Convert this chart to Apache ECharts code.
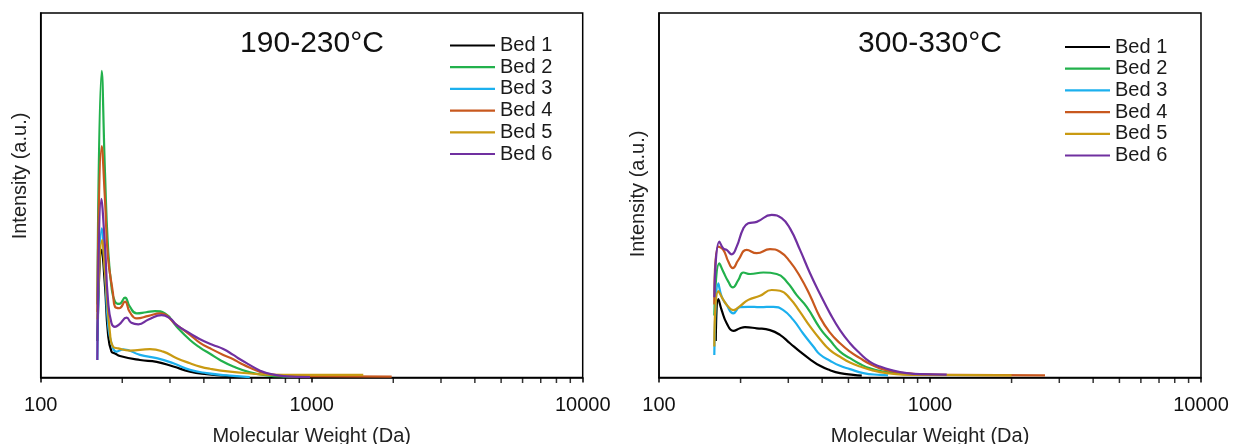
<!DOCTYPE html>
<html>
<head>
<meta charset="utf-8">
<script src="https://cdn.jsdelivr.net/npm/echarts@6/dist/echarts.min.js"></script>
<style>
html,body{margin:0;padding:0;background:#fff;}
#chart{width:1234px;height:444px;}
</style>
</head>
<body>
<div id="chart"></div>
<script>
// ---- data ----
const panelTitles = ['190-230°C', '300-330°C'];
const bedNames = ['Bed 1', 'Bed 2', 'Bed 3', 'Bed 4', 'Bed 5', 'Bed 6'];
const xTicks = [100, 1000, 10000];
const minorTickValues = [200, 300, 400, 500, 600, 700, 800, 900, 2000, 3000, 4000, 5000, 6000, 7000, 8000, 9000];
const xAxisTitle = 'Molecular Weight (Da)';
const yAxisTitle = 'Intensity (a.u.)';

// 190-230°C panel: [molecular weight (Da), intensity]
const lowBed1 = [[161.8, 10], [167.9, 35], [172.7, 25.0], [177.1, 12.1], [182.5, 7.1], [188.0, 6.6], [196.1, 5.9], [232.5, 4.8], [267.9, 4.3], [308.6, 3.0], [355.6, 1.6], [409.9, 0.9], [471.8, 0.5], [545, 0.1]];
const lowBed2 = [[161.8, 20], [167.9, 84.1], [172.7, 56.0], [177.1, 35.9], [182.5, 24.9], [188.0, 20.8], [195, 20.2], [204.7, 21.9], [213, 19.5], [226.1, 17.6], [245, 17.9], [264.1, 18.2], [287.5, 17.6], [317.6, 13.9], [355.6, 10.3], [387.1, 8.2], [421.5, 6.5], [458.7, 4.8], [513.6, 3.0], [592, 1.4], [682.3, 0.6], [808.8, 0.2], [905, 0.1]];
const lowBed3 = [[161.8, 4.8], [167.9, 40.9], [172.7, 28.6], [177.1, 14.9], [182.5, 9.4], [190.7, 7.1], [201.7, 7.7], [232.5, 6.2], [267.9, 5.3], [308.6, 3.9], [355.6, 2.1], [409.9, 1.2], [499.4, 0.5], [591, 0.1]];
const lowBed4 = [[161.8, 18], [167.9, 63.5], [172.7, 48.7], [177.1, 33.1], [184.8, 23.1], [188.0, 19.4], [195, 19.0], [204.7, 20.8], [213, 18.0], [226.1, 16.2], [250, 16.9], [275.5, 17.6], [317.6, 14.4], [355.6, 11.7], [387.1, 9.5], [421.5, 8.0], [471.8, 6.2], [513.6, 5.0], [543.7, 4.0], [592, 2.7], [682.3, 1.0], [785.9, 0.5], [905, 0.35], [1973, 0.25]];
const lowBed5 = [[161.8, 16], [168.5, 37.7], [172.7, 28.8], [180.2, 12.1], [184.8, 8.5], [193.3, 8.0], [213.5, 7.4], [253.1, 7.8], [283.4, 7.1], [317.6, 5.3], [355.6, 3.9], [387.1, 3.0], [421.5, 2.4], [499.4, 1.6], [592, 1.1], [682, 0.8], [905, 0.7], [1550, 0.7]];
const lowBed6 = [[161.8, 4.8], [167.4, 49.0], [172.7, 35.9], [177.1, 21.3], [182.5, 14.9], [188.0, 13.9], [195, 14.6], [207.6, 16.4], [216, 15.0], [229.2, 14.6], [250, 15.9], [279.5, 17.1], [300, 16.2], [317.6, 14.4], [355.6, 12.1], [387.1, 10.5], [430, 9.0], [471.8, 7.8], [513.6, 6.2], [543.7, 5.0], [592, 3.4], [640, 2.0], [682.3, 1.2], [785.9, 0.4], [985.6, 0.1]];

// 300-330°C panel
const highBed1 = [[162, 10], [165.5, 21.5], [170.3, 18.5], [177.7, 14.9], [188.0, 12.8], [199.0, 13.5], [207.6, 13.8], [229.4, 13.5], [256.8, 13.0], [279.5, 11.7], [304.3, 9.4], [331.4, 7.1], [360.8, 5.0], [392.8, 3.2], [427.6, 2.0], [465.5, 1.2], [521.2, 0.7], [560, 0.5]];
const highBed2 = [[160, 17], [166.9, 31.3], [172.7, 29.0], [180.2, 26.3], [187.1, 24.7], [196.1, 26.7], [204.7, 28.8], [216.7, 28.4], [242.6, 28.8], [271.8, 28.4], [296.0, 26.3], [322.2, 22.6], [350.8, 19.4], [392.8, 13.5], [427.6, 10.2], [465.5, 7.1], [506.7, 5.3], [551.7, 3.7], [600.6, 2.5], [672.5, 1.6], [775, 1.0], [893.3, 0.8]];
const highBed3 = [[160, 6.2], [165.5, 25.8], [170.3, 22.2], [177.7, 19.9], [188.0, 17.6], [199.0, 19.3], [213.5, 19.4], [235.9, 19.3], [264.1, 19.4], [287.5, 18.5], [313.0, 15.8], [340.8, 12.0], [371.1, 8.5], [392.8, 6.3], [427.6, 4.6], [465.5, 3.2], [506.7, 2.3], [567.5, 1.2], [653.9, 0.7], [700, 0.6]];
const highBed4 = [[160, 20], [165.5, 35.9], [172.7, 35.0], [180.2, 31.8], [187.1, 30.0], [196.1, 32.2], [210.6, 35.0], [229.4, 34.1], [256.8, 35.2], [279.5, 34.5], [304.3, 31.8], [331.4, 27.7], [360.8, 22.5], [392.8, 16.5], [427.6, 12.3], [465.5, 9.4], [506.7, 7.1], [551.7, 5.3], [600.6, 3.7], [653.9, 2.5], [732.1, 1.6], [820.4, 1.2], [918.8, 0.9], [1200, 0.7], [2657, 0.6]];
const highBed5 = [[160, 8.5], [165.5, 23.7], [172.7, 21.3], [180.2, 19.4], [188.0, 18.5], [199.0, 19.6], [213.5, 21.3], [235.9, 22.4], [260.5, 24.0], [279.5, 23.8], [304.3, 21.7], [331.4, 18.0], [360.8, 14.0], [392.8, 10.5], [427.6, 7.5], [465.5, 5.7], [506.7, 4.1], [551.7, 3.0], [617.7, 1.9], [692.1, 1.2], [797.1, 0.8], [1000, 0.7], [2000, 0.6]];
const highBed6 = [[160, 22], [166.9, 37.3], [172.7, 35.4], [177.7, 35.0], [185.5, 33.8], [193.5, 35.9], [204.7, 40.9], [213.5, 42.3], [229.4, 42.7], [260.5, 44.6], [283.6, 43.7], [304.3, 40.9], [331.4, 35.0], [360.8, 28.6], [392.8, 22.9], [427.6, 17.6], [465.5, 13.0], [506.7, 9.4], [551.7, 6.6], [600.6, 4.3], [653.9, 3.0], [732.1, 1.9], [820.4, 1.2], [918.8, 0.9], [1152.6, 0.8]];

const panels = [
  [lowBed1, lowBed2, lowBed3, lowBed4, lowBed5, lowBed6],
  [highBed1, highBed2, highBed3, highBed4, highBed5, highBed6]
];

// ---- styles ----
const bedColors = ['#000000', '#22B14C', '#1CB0EE', '#C8581E', '#C99A12', '#7030A0'];
const FONT = '"Liberation Sans", Arial, sans-serif';

const chart = echarts.init(document.getElementById('chart'), null, {renderer: 'canvas'});

const grids = [
  {left: 40.7, right: 651.3, top: 13, bottom: 66.5},
  {left: 659, right: 33, top: 13, bottom: 66.5}
];
const titleX = [312, 930];
const legendPos = [{left: 450, top: 35.5}, {left: 1065, top: 37}];
const yTitlePos = [[20, 176], [638, 194]];

const option = {
  backgroundColor: '#fff',
  animation: false,
  textStyle: {fontFamily: FONT},
  title: panelTitles.map((t, i) => ({
    text: t, left: titleX[i], top: 29, textAlign: 'center', padding: 0,
    textStyle: {fontSize: 30, fontWeight: 'normal', color: '#111', fontFamily: FONT, lineHeight: 30}
  })),
  legend: legendPos.map(p => ({
    data: bedNames.map(n => ({name: n, icon: 'rect'})),
    orient: 'vertical', left: p.left, top: p.top, padding: 0,
    itemWidth: 45, itemHeight: 2.2, itemGap: 1.7,
    textStyle: {fontSize: 20, color: '#1a1a1a', fontFamily: FONT, lineHeight: 20},
    selectedMode: false
  })),
  grid: grids.map(g => Object.assign({show: true, borderColor: '#000', borderWidth: 1.5,
    backgroundColor: 'transparent', containLabel: false, outerBoundsMode: 'none'}, g)),
  xAxis: grids.map((g, i) => ({
    type: 'log', logBase: 10, gridIndex: i, min: xTicks[0], max: xTicks[xTicks.length - 1],
    axisLine: {show: true, lineStyle: {color: '#000', width: 1.5}},
    axisTick: {show: true, inside: false, length: 5, lineStyle: {color: '#000', width: 1.5}},
    axisLabel: {fontSize: 20, color: '#111', margin: 18, fontFamily: FONT,
      formatter: v => String(Math.round(v))},
    splitLine: {show: false},
    name: xAxisTitle, nameLocation: 'middle', nameGap: 49,
    nameTextStyle: {fontSize: 20, color: '#222', fontFamily: FONT}
  })),
  yAxis: grids.map((g, i) => ({
    type: 'value', gridIndex: i, min: 0, max: 100,
    axisLine: {show: true, lineStyle: {color: '#000', width: 1.5}},
    axisTick: {show: false}, axisLabel: {show: false}, splitLine: {show: false}
  })),
  graphic: yTitlePos.map(p => ({
    type: 'text', x: p[0], y: p[1], rotation: Math.PI / 2, silent: true,
    style: {text: yAxisTitle, font: '20px ' + FONT, fill: '#222',
      align: 'center', verticalAlign: 'middle', textAlign: 'center', textVerticalAlign: 'middle'}
  })),
  series: []
};

panels.forEach((beds, gi) => {
  beds.forEach((data, bi) => {
    option.series.push({
      type: 'line', name: bedNames[bi], xAxisIndex: gi, yAxisIndex: gi,
      data: data, symbol: 'none', showSymbol: false, smooth: 0.5,
      color: bedColors[bi],
      itemStyle: {color: bedColors[bi]},
      lineStyle: {width: 2.2, color: bedColors[bi]},
      z: 3
    });
  });
  option.series.push({
    type: 'scatter', name: 'minorTicks' + gi, xAxisIndex: gi, yAxisIndex: gi,
    data: minorTickValues.map(v => [v, 0]),
    symbol: 'rect', symbolSize: [1.5, 5], symbolOffset: [0, 3],
    itemStyle: {color: '#000'}, silent: true, clip: false, z: 4
  });
});

chart.setOption(option);
</script>
</body>
</html>
